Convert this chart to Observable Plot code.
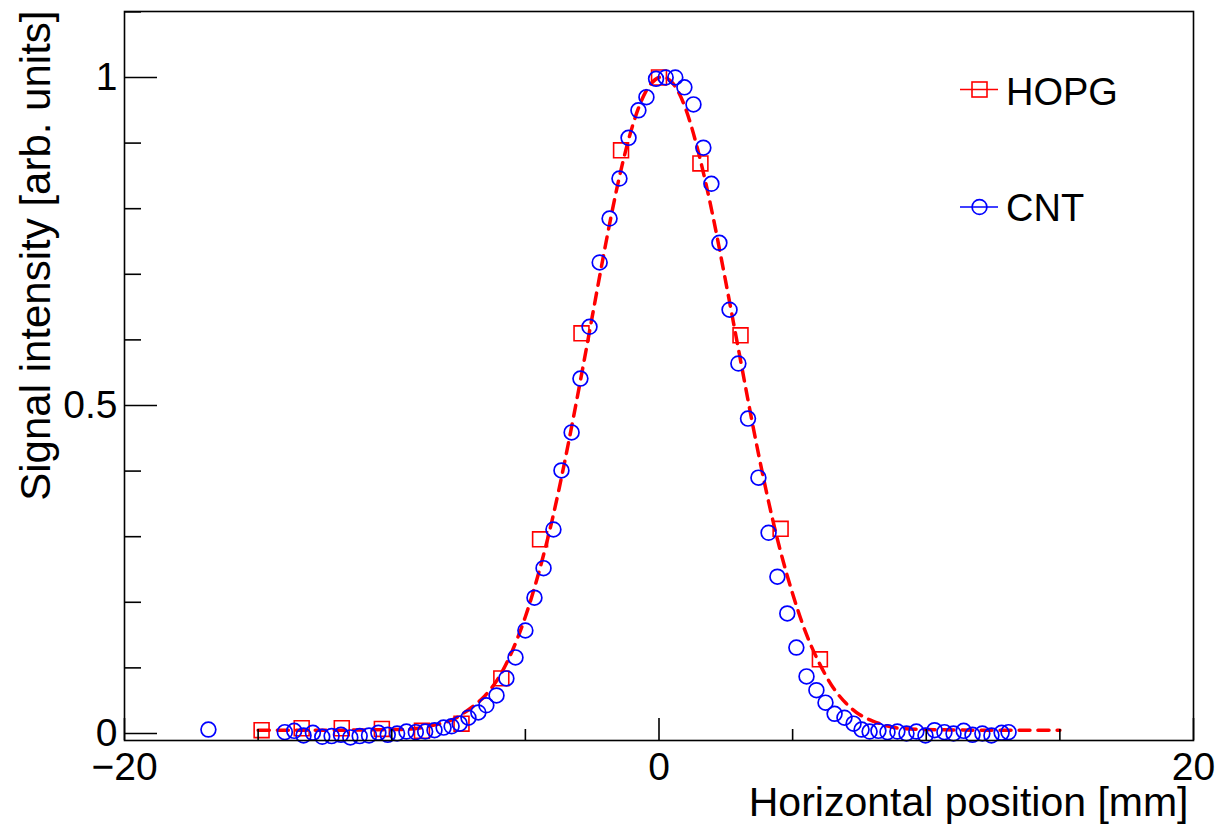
<!DOCTYPE html>
<html><head><meta charset="utf-8">
<script src="https://cdn.jsdelivr.net/npm/d3@7"></script>
<script src="https://cdn.jsdelivr.net/npm/@observablehq/plot@0.6"></script>
<style>
html,body{margin:0;padding:0;background:#fff;overflow:hidden}
#chart{position:relative;width:1217px;height:831px}
svg{display:block}
</style></head><body><div id="chart"></div>
<script>
// ---- data ----
const hopgX = [-14.87, -13.37, -11.87, -10.37, -8.87, -7.39, -5.9, -4.45, -2.9, -1.42, 0.0, 1.55, 3.05, 4.55, 6.02];
const hopgY = [0.005, 0.008, 0.008, 0.007, 0.004, 0.015, 0.084, 0.296, 0.610, 0.889, 1.0, 0.869, 0.607, 0.312, 0.113];

const cntX = [-16.86, -14.0, -13.65, -13.3, -12.95, -12.6, -12.25, -11.9, -11.55, -11.2, -10.85, -10.5, -10.15, -9.8, -9.45, -9.1, -8.75, -8.4,
  -8.06, -7.76, -7.46, -7.13, -6.76, -6.46, -6.08, -5.71, -5.37, -5.0, -4.66, -4.32, -3.95, -3.65, -3.27, -2.94, -2.6, -2.22, -1.85, -1.48,
  -1.14, -0.77, -0.47, -0.11, 0.25, 0.61, 0.95, 1.29, 1.66, 1.96, 2.26, 2.64, 2.97, 3.33, 3.72, 4.1, 4.43, 4.8, 5.14, 5.52, 5.89, 6.23,
  6.57, 6.94, 7.28, 7.58, 7.88, 8.21, 8.55, 8.92, 9.26, 9.63, 9.97, 10.31, 10.68, 11.02, 11.4, 11.73, 12.1, 12.44, 12.82, 13.08];
const cntY = [0.006, 0.002, 0.004, -0.003, 0.001, -0.005, -0.004, -0.002, -0.006, -0.004, -0.003, 0.001, -0.002, 0.0, 0.003, 0.002, 0.003, 0.005,
  0.009, 0.011, 0.015, 0.024, 0.032, 0.043, 0.058, 0.084, 0.116, 0.157, 0.207, 0.252, 0.311, 0.401, 0.459, 0.541, 0.620, 0.718, 0.785, 0.846,
  0.908, 0.950, 0.970, 0.998, 1.0, 1.0, 0.985, 0.959, 0.893, 0.838, 0.748, 0.646, 0.564, 0.480, 0.390, 0.306, 0.239, 0.183, 0.131, 0.087, 0.066, 0.047,
  0.030, 0.024, 0.015, 0.006, 0.003, 0.004, 0.002, 0.003, 0.0, 0.003, -0.003, 0.005, 0.002, 0.0, 0.004, -0.002, 0.0, -0.003, 0.001, 0.002];

const fitX = [-15, -12, -10, -9, -8, -7.5, -7, -6.5, -6, -5.5, -5, -4.5, -4, -3.5, -3, -2.5, -2, -1.5, -1, -0.5, 0,
  0.5, 1, 1.5, 2, 2.5, 3, 3.5, 4, 4.5, 5, 5.5, 6, 6.5, 7, 7.5, 8, 8.5, 9, 10, 12, 15];
const fitY = [0.005, 0.005, 0.006, 0.008, 0.017, 0.026, 0.040, 0.058, 0.085, 0.125, 0.178, 0.245, 0.325, 0.42, 0.525, 0.635, 0.745, 0.845, 0.925, 0.978, 1.0,
  0.992, 0.952, 0.882, 0.792, 0.688, 0.58, 0.472, 0.372, 0.285, 0.213, 0.153, 0.107, 0.071, 0.046, 0.029, 0.019, 0.012, 0.008, 0.006, 0.005, 0.005];

const seriesNames = ["HOPG", "CNT"];
const xMajorTicks = [-20, 0, 20];
const xMinorTicks = [-15, -10, -5, 5, 10, 15];
const yMajorTicks = [0, 0.5, 1];
const yMinorTicks = [0.1, 0.2, 0.3, 0.4, 0.6, 0.7, 0.8, 0.9, 1.1];
const xTitle = "Horizontal position [mm]";
const yTitle = "Signal intensity [arb. units]";

// ---- tables ----
const hopg = hopgX.map((x, i) => ({x, y: hopgY[i]}));
const cnt = cntX.map((x, i) => ({x, y: cntY[i]}));
const fit = fitX.map((x, i) => ({x, y: fitY[i]}));

const RED = "#ff0000", BLUE = "#0000ff";
const W = 1217, H = 831, mL = 124, mR = 24, mT = 11, mB = 91;
const frameW = W - mL - mR, frameH = H - mT - mB;
const FONT = "'Liberation Sans', Arial, Helvetica, sans-serif";
const fmt = d => d < 0 ? "\u2212" + Math.abs(d) : String(d);

const plot = Plot.plot({
  width: W, height: H,
  marginLeft: mL, marginRight: mR, marginTop: mT, marginBottom: mB,
  style: {fontFamily: FONT, background: "white", overflow: "visible"},
  x: {domain: [-20, 20]},
  y: {domain: [-0.0107, 1.1006]},
  marks: [
    Plot.line(fit, {x: "x", y: "y", stroke: RED, strokeWidth: 3.5, strokeDasharray: "11,8", curve: "natural"}),
    Plot.dot(hopg, {x: "x", y: "y", symbol: "square", r: 8.4, stroke: RED, strokeWidth: 1.6, fill: "none"}),
    Plot.dot(cnt, {x: "x", y: "y", r: 7.4, stroke: BLUE, strokeWidth: 1.7, fill: "none"}),
    Plot.frame({stroke: "#000", strokeWidth: 1.6}),
    Plot.tickX(xMajorTicks, {x: d => d, insetTop: frameH - 22, stroke: "#000", strokeWidth: 1.6}),
    Plot.tickX(xMinorTicks, {x: d => d, insetTop: frameH - 11, stroke: "#000", strokeWidth: 1.6}),
    Plot.tickY(yMajorTicks, {y: d => d, insetRight: frameW - 33, stroke: "#000", strokeWidth: 1.6}),
    Plot.tickY(yMinorTicks, {y: d => d, insetRight: frameW - 17, stroke: "#000", strokeWidth: 1.6}),
    Plot.axisX({ticks: xMajorTicks, tickSize: 0, tickPadding: 12, fontSize: 39, label: null, tickFormat: fmt, fill: "#000"}),
    Plot.axisY({ticks: yMajorTicks, tickSize: 0, tickPadding: 7, fontSize: 39, label: null, tickFormat: fmt, fill: "#000"}),
    Plot.text([xTitle], {text: d => d, frameAnchor: "bottom-right", textAnchor: "end", lineAnchor: "bottom", dx: -5, dy: 75, fontSize: 41, fill: "#000"}),
    Plot.text([yTitle], {text: d => d, frameAnchor: "top-left", rotate: -90, textAnchor: "end", lineAnchor: "bottom", dx: -75, dy: -1, fontSize: 42, fill: "#000"})
  ]
});
document.getElementById("chart").appendChild(plot);

// ---- legend (inside the frame, top-right) ----
const svg = d3.select(plot);
const leg = svg.append("g").attr("font-family", FONT).attr("font-size", 38).attr("text-anchor", "start");
const items = [
  {name: seriesNames[0], color: RED, sym: "square", cy: 89.5, base: 105},
  {name: seriesNames[1], color: BLUE, sym: "circle", cy: 207, base: 221}
];
for (const it of items) {
  leg.append("line").attr("x1", 960).attr("x2", 998).attr("y1", it.cy).attr("y2", it.cy)
    .attr("stroke", it.color).attr("stroke-width", 1.6);
  if (it.sym === "square") {
    leg.append("rect").attr("x", 979.5 - 7.5).attr("y", it.cy - 7.5).attr("width", 15).attr("height", 15)
      .attr("fill", "none").attr("stroke", it.color).attr("stroke-width", 1.6);
  } else {
    leg.append("circle").attr("cx", 979.5).attr("cy", it.cy).attr("r", 7.4)
      .attr("fill", "none").attr("stroke", it.color).attr("stroke-width", 1.7);
  }
  leg.append("text").attr("x", 1006).attr("y", it.base).attr("text-anchor", "start").attr("fill", "#000").text(it.name);
}
</script></body></html>
